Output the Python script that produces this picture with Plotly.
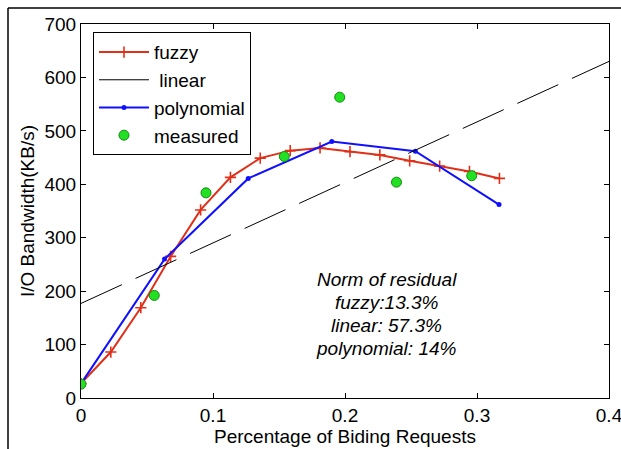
import plotly.graph_objects as go

# ---- data ----
fuzzy_x = [0, 0.0226, 0.0453, 0.0679, 0.0906, 0.1132, 0.1358, 0.1585, 0.1811,
           0.2038, 0.2264, 0.2490, 0.2717, 0.2943, 0.3170]
fuzzy_y = [27, 86, 169, 265, 352, 413, 449, 463, 468, 461, 455, 444, 434, 424, 411]

linear_x = [0, 0.4]
linear_y = [177, 630]

poly_x = [0, 0.0633, 0.1267, 0.1900, 0.2533, 0.3167]
poly_y = [27, 260, 411, 480, 462, 362]

meas_x = [0, 0.0555, 0.0947, 0.1540, 0.1960, 0.2390, 0.2960]
meas_y = [26, 192, 384, 452, 563, 404, 416]

x_ticks = [0, 0.1, 0.2, 0.3, 0.4]
x_ticktext = ["0", "0.1", "0.2", "0.3", "0.4"]
y_ticks = [0, 100, 200, 300, 400, 500, 600, 700]

note_lines = ["Norm of residual", "fuzzy:13.3%", "linear: 57.3%", "polynomial: 14%"]

FONT = "Liberation Sans, Arial, sans-serif"
RED = "#e0301a"
BLUE = "#1010ff"

fig = go.Figure()

fig.add_trace(go.Scatter(
    x=fuzzy_x, y=fuzzy_y, mode="lines+markers", name="fuzzy",
    line=dict(color=RED, width=2),
    marker=dict(symbol="cross-thin", size=8, line=dict(color=RED, width=1.6)),
))
# legend entry for linear (solid, as in the reference legend)
fig.add_trace(go.Scatter(
    x=[None], y=[None], mode="lines", name="\u00a0linear",
    line=dict(color="black", width=1),
))
fig.add_trace(go.Scatter(
    x=poly_x, y=poly_y, mode="lines+markers", name="polynomial",
    line=dict(color=BLUE, width=2),
    marker=dict(symbol="circle", size=5, color=BLUE),
))
fig.add_trace(go.Scatter(
    x=meas_x, y=meas_y, mode="markers", name="measured",
    marker=dict(symbol="circle", size=10, color="#22e022",
                line=dict(color="#138a13", width=1)),
))
fig.add_trace(go.Scatter(
    x=linear_x, y=linear_y, mode="lines", showlegend=False,
    line=dict(color="black", width=1, dash="45px,15px"),
))

for i, line in enumerate(note_lines):
    fig.add_annotation(
        x=0.2318, y=221, xref="x", yref="y", yshift=-22.7 * i,
        text=line, showarrow=False, align="center",
        font=dict(family=FONT, size=19, color="black", style="italic"),
    )

# outer frame lines (figure border)
L, R, T, B = 81, 12, 24, 51
W, H = 621, 449
pw, ph = W - L - R, H - T - B
def px_to_paper_x(px):
    return (px - L) / pw
def py_to_paper_y(py):
    return (H - B - py) / ph

fig.add_shape(type="line", xref="paper", yref="paper",
              x0=px_to_paper_x(8), x1=px_to_paper_x(8),
              y0=py_to_paper_y(8), y1=py_to_paper_y(460),
              line=dict(color="black", width=1.5))
fig.add_shape(type="line", xref="paper", yref="paper",
              x0=px_to_paper_x(8), x1=px_to_paper_x(640),
              y0=py_to_paper_y(8), y1=py_to_paper_y(8),
              line=dict(color="black", width=1.5))

axis_common = dict(
    showgrid=False, zeroline=False, showline=True, linecolor="black",
    linewidth=1, mirror="allticks", ticks="inside", ticklen=5,
    tickcolor="black", tickfont=dict(family=FONT, size=19, color="black"),
    ticklabeloverflow="allow", automargin=False,
)

fig.update_xaxes(range=[0, 0.4], tickvals=x_ticks, ticktext=x_ticktext,
                 title=dict(text="Percentage of Biding Requests", standoff=4,
                            font=dict(family=FONT, size=19, color="black")),
                 **axis_common)
fig.update_yaxes(range=[0, 700], tickvals=y_ticks,
                 title=dict(text="I/O Bandwidth(KB/s)", standoff=4,
                            font=dict(family=FONT, size=19, color="black")),
                 **axis_common)

fig.update_layout(
    width=W, height=H,
    margin=dict(l=L, r=R, t=T, b=B),
    paper_bgcolor="white", plot_bgcolor="white",
    showlegend=True,
    legend=dict(x=0.0227, y=0.978, xanchor="left", yanchor="top",
                bgcolor="white", bordercolor="black", borderwidth=1,
                font=dict(family=FONT, size=19, color="black"),
                itemwidth=50, tracegroupgap=0),
)

fig.write_html("out.html")
